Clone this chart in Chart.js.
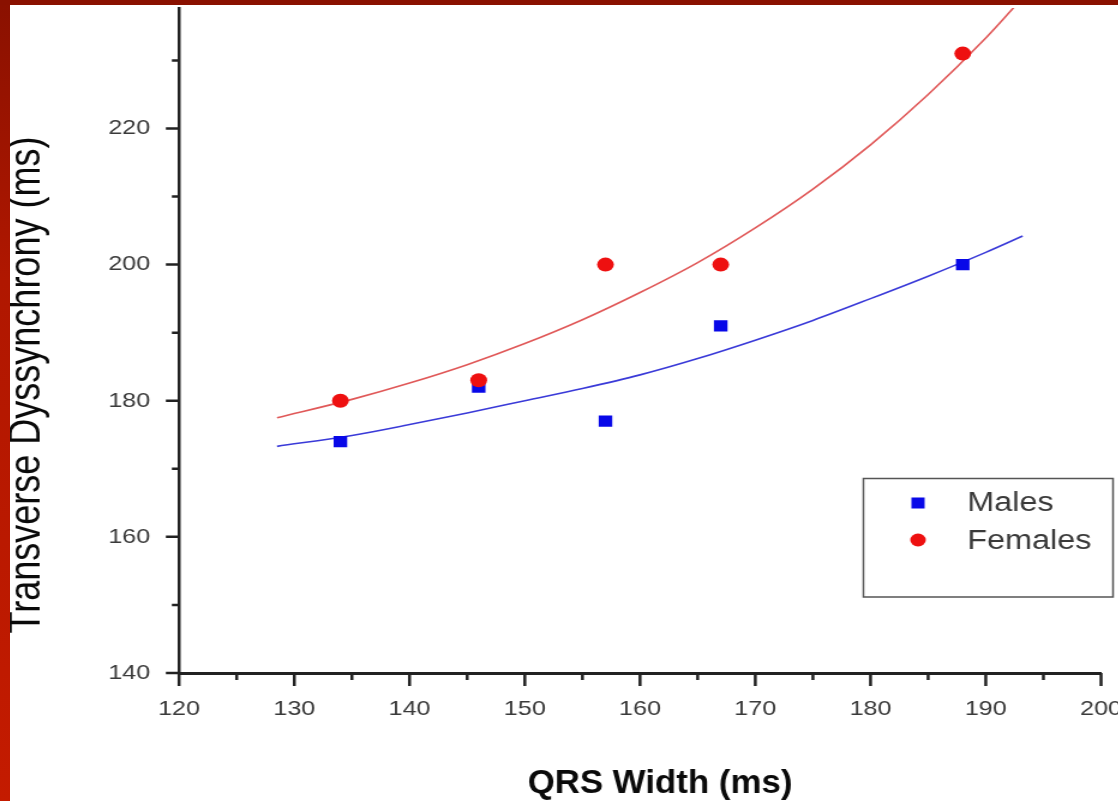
<!DOCTYPE html>
<html>
<head>
<meta charset="utf-8">
<script src="https://cdn.jsdelivr.net/npm/chart.js@4.4.1/dist/chart.umd.min.js"></script>
<style>
  html, body { margin: 0; padding: 0; background: #fff; }
  #frame { position: relative; width: 1118px; height: 801px; overflow: hidden; background: #fff; }
  #stretch { position: absolute; left: 0; top: 0; transform: scaleX(1.2); transform-origin: 0 0; }
  #topBar { position: absolute; left: 0; top: 0; width: 1118px; height: 5px; background: #8a1100; }
  #leftBar { position: absolute; left: 0; top: 0; width: 10px; height: 801px;
             background: linear-gradient(#8a1100, #b01700 35%, #c41b00); }
</style>
</head>
<body>
<div id="frame">
  <div id="stretch"><canvas id="chart" width="960" height="801" style="width:960px;height:801px"></canvas></div>
  <div id="leftBar"></div>
  <div id="topBar"></div>
</div>
<script>
// QRS width (ms) for each group
const qrsWidth = [134, 146, 157, 167, 188];
const malesTD = [174, 182, 177, 191, 200];
const femalesTD = [180, 183, 200, 200, 231];

// exponential growth fits
const malesFitX = [128.5, 135, 140, 145, 150, 155, 160, 165, 170, 175, 180, 185, 190, 193.2];
const malesFitY = [173.3, 174.9, 176.5, 178.2, 180.0, 181.8, 183.8, 186.2, 188.9, 191.8, 195.0, 198.3, 201.8, 204.2];
const femalesFitX = [128.5, 135, 140, 145, 150, 155, 160, 165, 170, 175, 180, 185, 190, 192.5];
const femalesFitY = [177.5, 180.2, 182.6, 185.3, 188.4, 191.9, 195.9, 200.3, 205.4, 211.1, 217.6, 225.0, 233.3, 237.9];

// axis ticks
const xMajor = [120, 130, 140, 150, 160, 170, 180, 190, 200];
const xMinor = [125, 135, 145, 155, 165, 175, 185, 195];
const yMajor = [140, 160, 180, 200, 220];
const yMinor = [150, 170, 190, 210, 230];

const BLUE = '#0808e8';
const RED = '#ee1010';
const pairs = (xs, ys) => xs.map((x, i) => ({ x: x, y: ys[i] }));

// tick marks, axis titles and the boxed legend
const decor = {
  id: 'decor',
  afterDraw(chart) {
    const { ctx, chartArea: a, scales } = chart;
    const sx = scales.x, sy = scales.y;
    ctx.save();
    ctx.strokeStyle = '#222';
    ctx.lineWidth = 2.5;
    ctx.beginPath();
    xMajor.forEach(v => { const p = sx.getPixelForValue(v); ctx.moveTo(p, a.bottom); ctx.lineTo(p, a.bottom + 13); });
    xMinor.forEach(v => { const p = sx.getPixelForValue(v); ctx.moveTo(p, a.bottom); ctx.lineTo(p, a.bottom + 7); });
    yMajor.forEach(v => { const p = sy.getPixelForValue(v); ctx.moveTo(a.left, p); ctx.lineTo(a.left - 11, p); });
    yMinor.forEach(v => { const p = sy.getPixelForValue(v); ctx.moveTo(a.left, p); ctx.lineTo(a.left - 6, p); });
    ctx.stroke();

    // y title
    ctx.fillStyle = '#0a0a0a';
    ctx.font = '36px Arial, "Liberation Sans", sans-serif';
    ctx.textAlign = 'center';
    ctx.textBaseline = 'middle';
    ctx.save();
    ctx.translate(23, 385);
    ctx.rotate(-Math.PI / 2);
    ctx.fillText('Transverse Dyssynchrony (ms)', 0, 0);
    ctx.restore();

    // x title
    ctx.save();
    ctx.font = 'bold 33px Arial, "Liberation Sans", sans-serif';
    ctx.translate(550, 784);
    ctx.scale(0.88, 1);
    ctx.fillText('QRS Width (ms)', 0, 0);
    ctx.restore();

    // legend
    ctx.strokeStyle = '#555';
    ctx.lineWidth = 1.5;
    ctx.strokeRect(719.5, 478.5, 208, 118.5);
    ctx.fillStyle = BLUE;
    ctx.fillRect(759.5, 497.5, 11, 11);
    ctx.fillStyle = RED;
    ctx.beginPath();
    ctx.arc(765, 540, 6.5, 0, Math.PI * 2);
    ctx.fill();
    ctx.fillStyle = '#3a3a3a';
    ctx.font = '27px Arial, "Liberation Sans", sans-serif';
    ctx.textAlign = 'left';
    ctx.fillText('Males', 806, 504);
    ctx.fillText('Females', 806, 542);
    ctx.restore();
  }
};

const tickFont = { family: 'Arial, "Liberation Sans", sans-serif', size: 21 };

new Chart(document.getElementById('chart'), {
  type: 'scatter',
  data: {
    datasets: [
      {
        label: 'Females',
        data: pairs(qrsWidth, femalesTD),
        pointStyle: 'circle',
        pointRadius: 7,
        backgroundColor: RED,
        borderColor: RED,
        borderWidth: 0
      },
      {
        label: 'Males',
        data: pairs(qrsWidth, malesTD),
        pointStyle: 'rect',
        pointRadius: 8,
        backgroundColor: BLUE,
        borderColor: BLUE,
        borderWidth: 0
      },
      {
        label: 'Females fit',
        data: pairs(femalesFitX, femalesFitY),
        showLine: true,
        pointRadius: 0,
        borderColor: '#e05858',
        borderWidth: 1.6,
        cubicInterpolationMode: 'monotone'
      },
      {
        label: 'Males fit',
        data: pairs(malesFitX, malesFitY),
        showLine: true,
        pointRadius: 0,
        borderColor: '#3a3ad8',
        borderWidth: 1.6,
        cubicInterpolationMode: 'monotone'
      }
    ]
  },
  options: {
    responsive: false,
    devicePixelRatio: 1,
    animation: false,
    layout: { padding: { left: 0, top: 6, right: 42.5, bottom: 0 } },
    plugins: { legend: { display: false }, tooltip: { enabled: false } },
    events: [],
    scales: {
      x: {
        type: 'linear',
        min: 120,
        max: 200,
        grid: { display: false, drawTicks: false },
        border: { display: true, color: '#222', width: 3 },
        afterBuildTicks: s => { s.ticks = xMajor.map(v => ({ value: v })); },
        afterFit: s => { s.height = 128; s.paddingLeft = 0; s.paddingRight = 0; },
        ticks: { color: '#3a3a3a', font: tickFont, padding: 24, maxRotation: 0, autoSkip: false }
      },
      y: {
        type: 'linear',
        min: 140,
        max: 237.7,
        grid: { display: false, drawTicks: false },
        border: { display: true, color: '#222', width: 2.5 },
        afterBuildTicks: s => { s.ticks = yMajor.map(v => ({ value: v })); },
        afterFit: s => { s.width = 149.2; s.paddingTop = 0; s.paddingBottom = 0; },
        ticks: { color: '#3a3a3a', font: tickFont, padding: 24 }
      }
    }
  },
  plugins: [decor]
});
</script>
</body>
</html>
